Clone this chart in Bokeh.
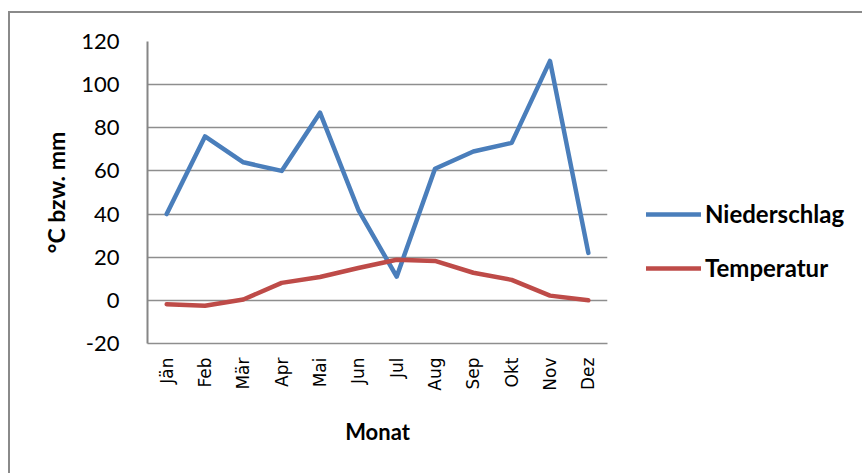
from math import pi
from bokeh.plotting import figure
from bokeh.models import Legend, LegendItem, FactorRange, Range1d, FixedTicker, PrintfTickFormatter
from bokeh.embed import file_html
from bokeh.resources import INLINE

months = ["Jän", "Feb", "Mär", "Apr", "Mai", "Jun", "Jul", "Aug", "Sep", "Okt", "Nov", "Dez"]
niederschlag = [40, 76, 64, 60, 87, 42, 11, 61, 69, 73, 111, 22]
temperatur = [-1.8, -2.5, 0.4, 8.1, 10.8, 15.0, 18.8, 18.3, 12.8, 9.5, 2.2, 0.0]
y_ticks = [-20, 0, 20, 40, 60, 80, 100, 120]

p = figure(
    frame_width=460, frame_height=302,
    x_range=FactorRange(*months, range_padding=0),
    y_range=Range1d(-20, 120),
    output_backend="svg", toolbar_location=None,
    min_border_left=137, min_border_right=0,
    min_border_top=28, min_border_bottom=130,
)
p.margin = (11, 0, 0, 8)
p.styles = {"border-top": "2px solid #8a8a8a", "border-left": "2px solid #8a8a8a"}
p.outline_line_color = None
p.background_fill_color = "white"
p.border_fill_color = "white"

grid_col = "#8e8e8e"
p.xgrid.grid_line_color = None
p.ygrid.grid_line_color = grid_col
p.ygrid.grid_line_width = 1.5
p.yaxis.ticker = FixedTicker(ticks=y_ticks)
p.yaxis.formatter = PrintfTickFormatter(format="%d")

p.yaxis.axis_line_color = "#868686"
p.yaxis.axis_line_width = 2
p.yaxis.major_tick_line_color = None
p.yaxis.minor_tick_line_color = None
p.yaxis.major_label_standoff = 22
p.yaxis.major_label_text_font = "Lato"
p.yaxis.major_label_text_font_size = "22px"
p.yaxis.major_label_text_color = "black"
p.yaxis.axis_label = "°C bzw. mm"
p.yaxis.axis_label_text_font = "Lato"
p.yaxis.axis_label_text_font_style = "bold"
p.yaxis.axis_label_text_font_size = "23px"
p.yaxis.axis_label_text_color = "black"
p.yaxis.axis_label_standoff = 8

p.xaxis.axis_line_color = grid_col
p.xaxis.axis_line_width = 1.5
p.xaxis.major_tick_line_color = None
p.xaxis.minor_tick_line_color = None
p.xaxis.major_label_orientation = pi / 2
p.xaxis.major_label_standoff = 8
p.xaxis.major_label_text_font = "DejaVu Sans"
p.xaxis.major_label_text_font_size = "17px"
p.xaxis.major_label_text_color = "black"
p.xaxis.axis_label = "Monat"
p.xaxis.axis_label_text_font = "Lato"
p.xaxis.axis_label_text_font_style = "bold"
p.xaxis.axis_label_text_font_size = "22px"
p.xaxis.axis_label_text_color = "black"
p.xaxis.axis_label_standoff = 24

r1 = p.line(months, niederschlag, line_color="#4a7ebb", line_width=4.5,
            line_join="round", line_cap="round")
r2 = p.line(months, temperatur, line_color="#be4b48", line_width=4.5,
            line_join="round", line_cap="round")

legend = Legend(
    items=[LegendItem(label="Niederschlag", renderers=[r1]),
           LegendItem(label="Temperatur", renderers=[r2])],
    location=(39, 61),
    glyph_width=55, glyph_height=24, label_height=24,
    label_standoff=4, spacing=25, padding=0, margin=0,
    border_line_color=None, background_fill_alpha=0,
    label_text_font="Lato", label_text_font_style="bold",
    label_text_font_size="24px", label_text_color="black",
)
p.add_layout(legend, "right")

open("out.html", "w").write(file_html(p, INLINE))
